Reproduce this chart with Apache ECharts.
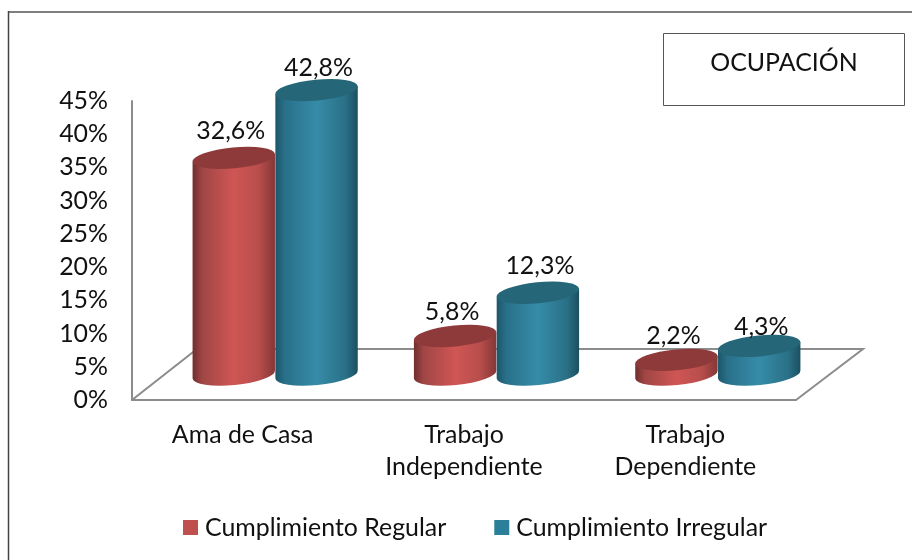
<!DOCTYPE html>
<html>
<head>
<meta charset="utf-8">
<title>Ocupación</title>
<script src="https://cdn.jsdelivr.net/npm/echarts@6/dist/echarts.min.js"></script>
<style>
  html, body { margin: 0; padding: 0; background: #fff; }
  #chart { width: 912px; height: 560px; }
</style>
</head>
<body>
<div id="chart"></div>
<script>
const categories = ['Ama de Casa', 'Trabajo\nIndependiente', 'Trabajo\nDependiente']
const regular = [32.6, 5.8, 2.2]
const irregular = [42.8, 12.3, 4.3]
const yTicks = [0, 5, 10, 15, 20, 25, 30, 35, 40, 45]

const fontName = 'Lato'
const fontSize = 24.9
const textColor = '#111'
const axisColor = '#8c8c8c'

// profundidad del piso 3D
const depthX = 65
const depthY = 51
const tilt = -5.5 // grados

const redBody = [
  [0, '#6f2e2d'], [0.12, '#a04645'], [0.5, '#cf5654'], [0.8, '#b84e4c'], [1, '#843736']
]
const blueBody = [
  [0, '#1c5668'], [0.12, '#29708a'], [0.5, '#368ca8'], [0.85, '#2a7087'], [1, '#1b4f5f']
]

function fmt(v) {
  return v.toFixed(1).replace('.', ',') + '%'
}

function cylinder(side, stops, topColor, labelShift, labelLift) {
  return function(params, api) {
    const cat = api.value(0)
    const val = api.value(1)
    const base = api.coord([cat, 0])
    const top = api.coord([cat, val])
    const band = api.size([1, 0])[0]
    const rx = band * 0.187
    const ry = 10.5
    const a = tilt * Math.PI / 180
    const ex = rx * Math.cos(a)
    const ey = rx * Math.sin(a)
    const cx = base[0] + depthX / 2 + side * rx
    const yBase = base[1] - depthY / 2
    const yTop = top[1] - depthY / 2
    const arc = 'A' + rx + ' ' + ry + ' ' + tilt + ' 0 0 '
    const body = 'M' + (cx - ex) + ' ' + (yTop - ey) +
      'L' + (cx - ex) + ' ' + (yBase - ey) +
      arc + (cx + ex) + ' ' + (yBase + ey) +
      'L' + (cx + ex) + ' ' + (yTop + ey) + 'Z'
    const cap = 'M' + (cx - ex) + ' ' + (yTop - ey) +
      arc + (cx + ex) + ' ' + (yTop + ey) +
      arc + (cx - ex) + ' ' + (yTop - ey) + 'Z'
    return {
      type: 'group',
      children: [
        {
          type: 'path',
          shape: { pathData: body },
          style: {
            fill: new echarts.graphic.LinearGradient(0, 0, 1, 0, stops.map(s => ({ offset: s[0], color: s[1] })))
          }
        },
        { type: 'path', shape: { pathData: cap }, style: { fill: topColor } },
        {
          type: 'text',
          x: cx + labelShift,
          y: yTop - labelLift[params.dataIndex],
          style: {
            text: fmt(val),
            fontFamily: fontName,
            fontSize: fontSize,
            fill: textColor,
            align: 'center',
            verticalAlign: 'middle'
          }
        }
      ]
    }
  }
}

const chart = echarts.init(document.getElementById('chart'))
chart.setOption({
  animation: false,
  backgroundColor: '#fff',
  grid: { left: 132, top: 101, width: 664, height: 299 },
  legend: {
    data: ['Cumplimiento Regular', 'Cumplimiento Irregular'],
    left: 183,
    top: 515,
    padding: 0,
    icon: 'rect',
    itemWidth: 15,
    itemHeight: 15,
    itemGap: 48,
    textStyle: { fontFamily: fontName, fontSize: fontSize, color: textColor, padding: [0, 0, 0, 2] }
  },
  xAxis: {
    type: 'category',
    data: categories,
    axisTick: { show: false },
    axisLine: { lineStyle: { color: axisColor, width: 2 } },
    axisLabel: { fontFamily: fontName, fontSize: fontSize, color: textColor, lineHeight: 32, margin: 19, interval: 0 }
  },
  yAxis: {
    type: 'value',
    min: yTicks[0],
    max: yTicks[yTicks.length - 1],
    interval: 5,
    splitLine: { show: false },
    axisTick: { show: false },
    axisLine: { show: true, lineStyle: { color: axisColor, width: 2 } },
    axisLabel: { fontFamily: fontName, fontSize: fontSize, color: textColor, margin: 24, padding: [6, 0, 0, 0], formatter: '{value}%' }
  },
  series: [
    {
      // piso
      type: 'custom',
      name: 'piso',
      silent: true,
      data: [[0, 0]],
      renderItem: function(params, api) {
        const g = params.coordSys
        const b = g.y + g.height
        return {
          type: 'polyline',
          shape: {
            points: [
              [g.x, b],
              [g.x + depthX, b - depthY],
              [g.x + g.width + depthX + 2, b - depthY],
              [g.x + g.width, b]
            ]
          },
          style: { fill: 'none', stroke: axisColor, lineWidth: 2 }
        }
      }
    },
    {
      type: 'custom',
      name: 'Cumplimiento Regular',
      itemStyle: { color: '#c0504d' },
      encode: { x: 0, y: 1 },
      data: regular.map((v, i) => [i, v]),
      renderItem: cylinder(-1, redBody, '#8f3a3a', -3, [27, 24, 24])
    },
    {
      type: 'custom',
      name: 'Cumplimiento Irregular',
      itemStyle: { color: '#2b7f99' },
      encode: { x: 0, y: 1 },
      data: irregular.map((v, i) => [i, v]),
      renderItem: cylinder(1, blueBody, '#256678', 2, [22, 27, 19])
    }
  ],
  graphic: [
    {
      type: 'polyline',
      shape: { points: [[912, 12], [8.5, 12]] },
      style: { fill: 'none', stroke: '#7f7f7f', lineWidth: 2 }
    },
    {
      type: 'polyline',
      shape: { points: [[8.5, 11], [8.5, 560]] },
      style: { fill: 'none', stroke: '#444', lineWidth: 1.5 }
    },
    {
      type: 'rect',
      shape: { x: 663.5, y: 33.5, width: 241, height: 72 },
      style: { fill: '#fff', stroke: '#555', lineWidth: 1 }
    },
    {
      type: 'text',
      x: 784,
      y: 63,
      style: {
        text: 'OCUPACIÓN',
        fontFamily: fontName,
        fontSize: fontSize,
        fill: textColor,
        align: 'center',
        verticalAlign: 'middle'
      }
    }
  ]
})
</script>
</body>
</html>
